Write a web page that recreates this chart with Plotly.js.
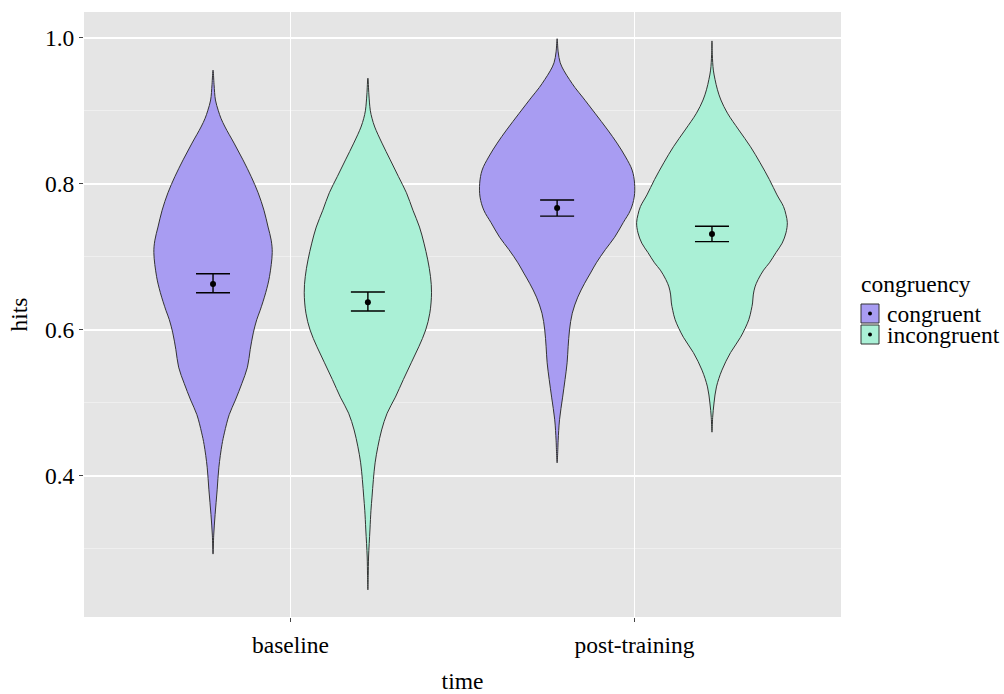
<!DOCTYPE html>
<html>
<head>
<meta charset="utf-8">
<script src="https://cdn.plot.ly/plotly-3.0.1.min.js"></script>
<style>html,body{margin:0;padding:0;background:#fff;}#chart{width:1004px;height:694px;}</style>
</head>
<body>
<div id="chart"></div>
<script>
// ---- data ----
const timePoints = ['baseline', 'post-training'];
const groups = ['congruent', 'incongruent'];
const groupOffset = [-0.225, 0.225];
const fillColors = ['rgb(168,156,242)', 'rgb(170,240,214)'];
const FONT = 'Liberation Serif';
const FS = 23.5;

// violin profiles: hits levels and half-width (x-axis units), bottom to top
const baseCongHits  = [0.293, 0.319, 0.347, 0.381, 0.412, 0.443, 0.459, 0.484, 0.504, 0.527, 0.549, 0.573, 0.596, 0.614, 0.627, 0.651, 0.673, 0.706, 0.723, 0.741, 0.764, 0.788, 0.810, 0.833, 0.856, 0.878, 0.890, 0.901, 0.915, 0.936, 0.956];
const baseCongWidth = [0.000, 0.002, 0.006, 0.012, 0.017, 0.026, 0.033, 0.047, 0.065, 0.084, 0.100, 0.108, 0.117, 0.127, 0.137, 0.153, 0.164, 0.172, 0.169, 0.160, 0.148, 0.131, 0.111, 0.087, 0.061, 0.035, 0.023, 0.015, 0.007, 0.003, 0.000];

const baseIncHits  = [0.244, 0.264, 0.289, 0.326, 0.353, 0.371, 0.395, 0.418, 0.440, 0.463, 0.486, 0.508, 0.532, 0.555, 0.577, 0.600, 0.623, 0.651, 0.673, 0.696, 0.719, 0.741, 0.764, 0.788, 0.810, 0.833, 0.856, 0.878, 0.890, 0.901, 0.922, 0.945];
const baseIncWidth = [0.000, 0.001, 0.002, 0.006, 0.009, 0.012, 0.016, 0.021, 0.029, 0.040, 0.056, 0.080, 0.103, 0.126, 0.148, 0.168, 0.180, 0.185, 0.182, 0.174, 0.163, 0.150, 0.131, 0.112, 0.089, 0.065, 0.041, 0.020, 0.012, 0.007, 0.003, 0.000];

const postCongHits  = [0.418, 0.436, 0.449, 0.477, 0.508, 0.532, 0.555, 0.577, 0.600, 0.623, 0.645, 0.664, 0.678, 0.692, 0.710, 0.727, 0.747, 0.764, 0.782, 0.801, 0.819, 0.837, 0.856, 0.874, 0.897, 0.919, 0.932, 0.943, 0.955, 0.966, 0.981, 0.999];
const postCongWidth = [0.000, 0.002, 0.003, 0.007, 0.016, 0.023, 0.029, 0.032, 0.036, 0.044, 0.060, 0.080, 0.097, 0.114, 0.140, 0.167, 0.192, 0.213, 0.224, 0.225, 0.218, 0.199, 0.174, 0.147, 0.110, 0.074, 0.052, 0.036, 0.020, 0.009, 0.003, 0.000];

const postIncHits  = [0.460, 0.480, 0.500, 0.522, 0.545, 0.569, 0.590, 0.614, 0.627, 0.637, 0.648, 0.659, 0.669, 0.682, 0.692, 0.706, 0.719, 0.733, 0.747, 0.758, 0.769, 0.785, 0.806, 0.829, 0.851, 0.874, 0.897, 0.915, 0.929, 0.943, 0.956, 0.977, 0.996];
const postIncWidth = [0.000, 0.002, 0.006, 0.013, 0.029, 0.054, 0.083, 0.107, 0.114, 0.118, 0.120, 0.125, 0.134, 0.150, 0.167, 0.186, 0.204, 0.215, 0.219, 0.215, 0.208, 0.189, 0.167, 0.140, 0.112, 0.078, 0.045, 0.026, 0.016, 0.009, 0.004, 0.001, 0.000];

// means and error bar limits per time point
const congMean  = [0.663, 0.767];
const congUpper = [0.677, 0.778];
const congLower = [0.651, 0.756];
const incMean   = [0.638, 0.7315];
const incUpper  = [0.652, 0.742];
const incLower  = [0.626, 0.721];

const yTicks = [0.4, 0.6, 0.8, 1.0];
const yTickText = ['0.4', '0.6', '0.8', '1.0'];
const yMinorTicks = [0.3, 0.5, 0.7, 0.9];

// ---- build traces ----
const profiles = [
  [baseCongHits, baseCongWidth, 0, 0],
  [baseIncHits, baseIncWidth, 0, 1],
  [postCongHits, postCongWidth, 1, 0],
  [postIncHits, postIncWidth, 1, 1]
];
const traces = [];
profiles.forEach(([hits, w, t, g]) => {
  const c = (t + 1) + groupOffset[g];
  const xs = [], ys = [];
  for (let i = 0; i < hits.length; i++) { xs.push(c + w[i]); ys.push(hits[i]); }
  for (let i = hits.length - 2; i >= 1; i--) { xs.push(c - w[i]); ys.push(hits[i]); }
  xs.push(xs[0]); ys.push(ys[0]);
  traces.push({
    type: 'scatter', mode: 'lines', x: xs, y: ys,
    fill: 'toself', fillcolor: fillColors[g],
    line: {color: '#333333', width: 1, shape: 'spline', smoothing: 1},
    hoverinfo: 'skip', showlegend: false
  });
});
[[congMean, congUpper, congLower, 0], [incMean, incUpper, incLower, 1]].forEach(([m, u, l, g]) => {
  traces.push({
    type: 'scatter', mode: 'markers',
    x: m.map((_, i) => (i + 1) + groupOffset[g]),
    y: m,
    marker: {color: '#000', size: 6},
    error_y: {type: 'data', symmetric: false,
      array: m.map((v, i) => u[i] - v),
      arrayminus: m.map((v, i) => v - l[i]),
      color: '#000', thickness: 1.4, width: 17},
    showlegend: false, name: groups[g]
  });
});

// ---- legend (drawn manually like ggplot keys) ----
const px2x = p => (p - 84) / 757;
const px2y = p => (617 - p) / 605;
const shapes = [];
const annotations = [];
[[304, 323], [325, 344]].forEach(([t, b], g) => {
  shapes.push({type: 'rect', xref: 'paper', yref: 'paper', x0: px2x(861), x1: px2x(879), y0: px2y(b), y1: px2y(t),
    fillcolor: fillColors[g], line: {color: '#333', width: 1}});
  const cy = (t + b) / 2;
  shapes.push({type: 'circle', xref: 'paper', yref: 'paper', x0: px2x(868), x1: px2x(872), y0: px2y(cy + 2), y1: px2y(cy - 2),
    fillcolor: '#000', line: {color: '#000', width: 0}});
  annotations.push({xref: 'paper', yref: 'paper', x: px2x(885), y: px2y(cy), xanchor: 'left', yanchor: 'middle',
    text: groups[g], showarrow: false, font: {family: FONT, size: FS, color: '#000'}});
});
annotations.push({xref: 'paper', yref: 'paper', x: px2x(859), y: px2y(284), xanchor: 'left', yanchor: 'middle',
  text: 'congruency', showarrow: false, font: {family: FONT, size: FS, color: '#000'}});

const layout = {
  width: 1004, height: 694,
  margin: {l: 84, r: 163, t: 12, b: 77, pad: 0},
  paper_bgcolor: '#ffffff', plot_bgcolor: '#e5e5e5',
  font: {family: FONT, size: FS, color: '#000'},
  showlegend: false,
  xaxis: {
    range: [0.4, 2.6], tickmode: 'array', tickvals: [1, 2], ticktext: timePoints,
    showgrid: true, gridcolor: '#ffffff', gridwidth: 1.3, zeroline: false,
    ticks: 'outside', ticklen: 4, tickcolor: '#444', tickwidth: 1, ticklabelstandoff: 3,
    tickfont: {family: FONT, size: FS, color: '#000'},
    title: {text: 'time', font: {family: FONT, size: FS}, standoff: 16},
    fixedrange: true, showline: false
  },
  yaxis: {
    range: [0.2068, 1.0356], tickmode: 'array', tickvals: yTicks, ticktext: yTickText,
    showgrid: true, gridcolor: '#ffffff', gridwidth: 1.3, zeroline: false,
    ticks: 'outside', ticklen: 4, tickcolor: '#444', tickwidth: 1,
    tickfont: {family: FONT, size: FS, color: '#000'},
    minor: {tickmode: 'array', tickvals: yMinorTicks, showgrid: true, gridcolor: '#f3f3f3', gridwidth: 0.7, ticks: ''},
    title: {text: 'hits', font: {family: FONT, size: FS}, standoff: 10},
    fixedrange: true, showline: false
  },
  shapes: shapes,
  annotations: annotations
};

Plotly.newPlot('chart', traces, layout, {displayModeBar: false, staticPlot: true});
</script>
</body>
</html>
